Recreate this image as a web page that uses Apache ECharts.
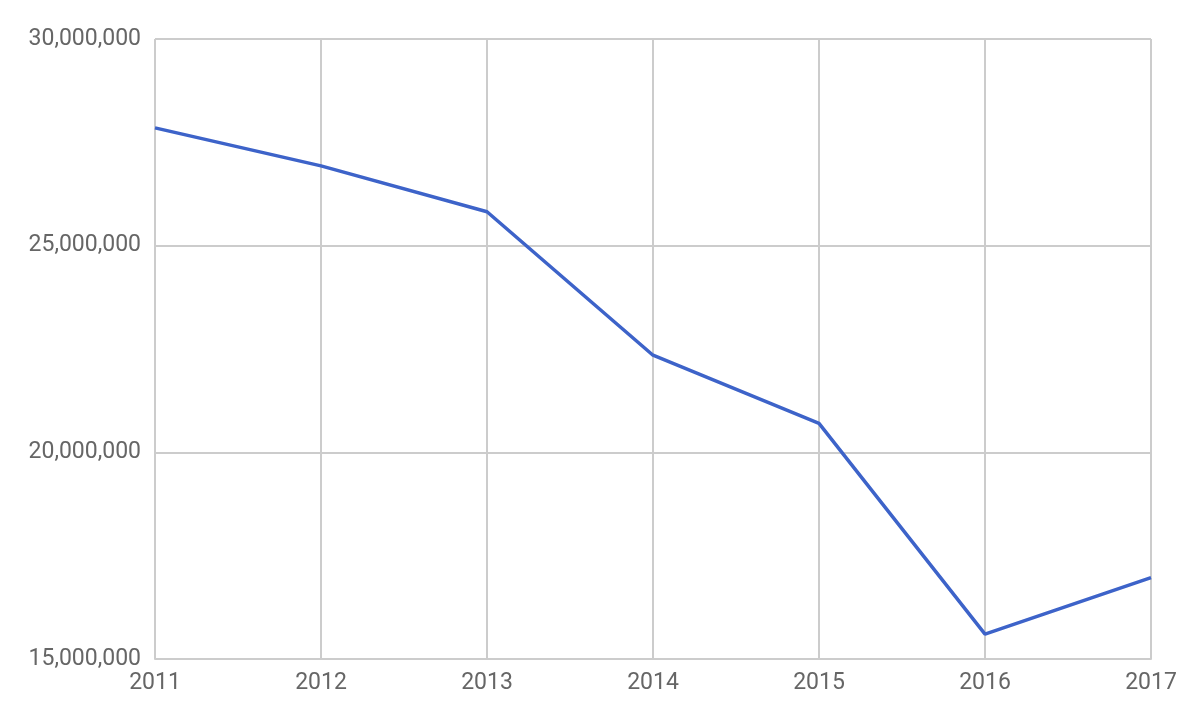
<!DOCTYPE html>
<html>
<head>
<meta charset="utf-8">
<script src="https://cdn.jsdelivr.net/npm/echarts@6/dist/echarts.min.js"></script>
<style>
html, body { margin: 0; padding: 0; background: #fff; }
#chart { width: 1182px; height: 724px; }
</style>
</head>
<body>
<div id="chart"></div>
<script>
var years = ['2011', '2012', '2013', '2014', '2015', '2016', '2017'];
var values = [27850000, 26930000, 25820000, 22350000, 20700000, 15600000, 16970000];
var yTicks = [15000000, 20000000, 25000000, 30000000];

var myChart = echarts.init(document.getElementById('chart'));
myChart.setOption({
    animation: false,
    grid: {
        left: 155,
        right: 31,
        top: 39,
        bottom: 65
    },
    xAxis: {
        type: 'category',
        boundaryGap: false,
        data: years,
        axisLine: { lineStyle: { color: '#ccc', width: 2 } },
        axisTick: { show: false },
        splitLine: { show: true, lineStyle: { color: '#ccc', width: 2 } },
        axisLabel: {
            color: '#666',
            fontFamily: 'Roboto',
            fontSize: 23,
            margin: 13
        }
    },
    yAxis: {
        type: 'value',
        min: yTicks[0],
        max: yTicks[yTicks.length - 1],
        interval: 5000000,
        axisLine: { show: false },
        axisTick: { show: false },
        splitLine: { show: true, lineStyle: { color: '#ccc', width: 2 } },
        axisLabel: {
            color: '#666',
            fontFamily: 'Roboto',
            fontSize: 23,
            margin: 14,
            formatter: function (v) {
                return v.toString().replace(/\B(?=(\d{3})+(?!\d))/g, ',');
            }
        }
    },
    series: [{
        type: 'line',
        data: values,
        symbol: 'none',
        lineStyle: { color: '#3d63c9', width: 3.5 }
    }]
});
</script>
</body>
</html>
